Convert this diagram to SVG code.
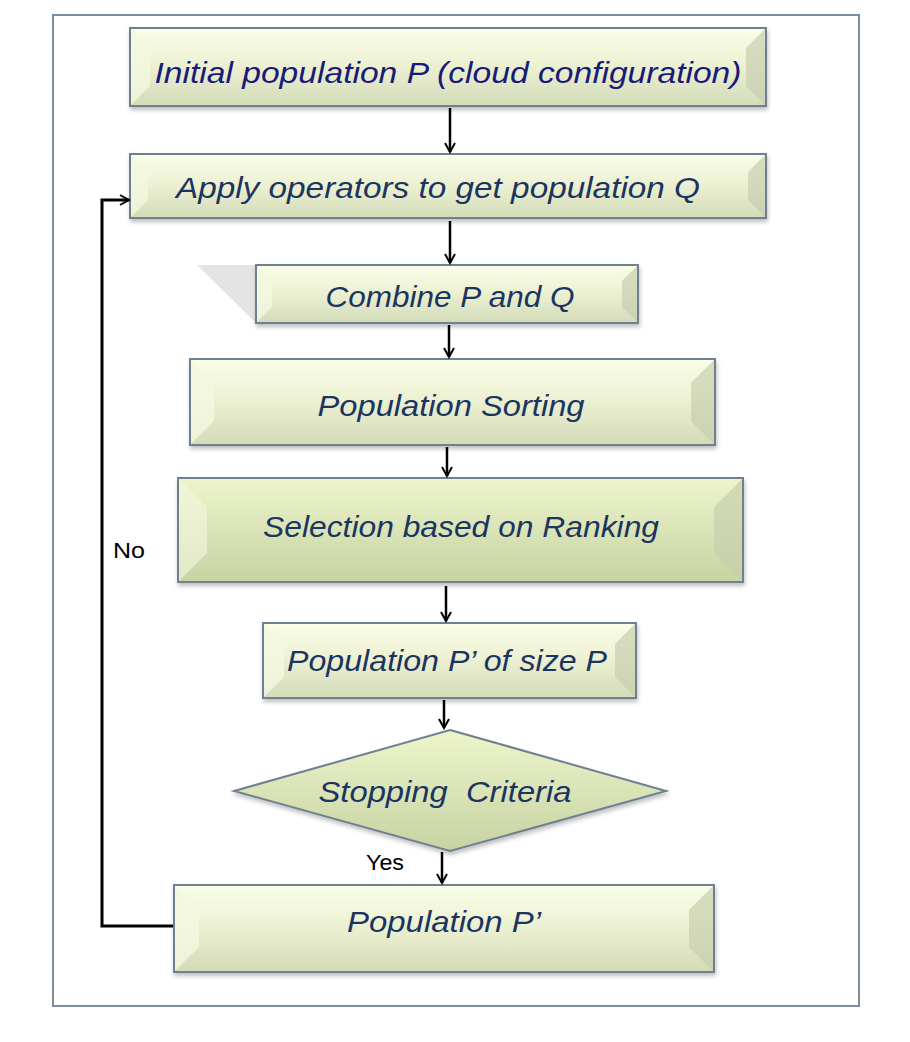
<svg xmlns="http://www.w3.org/2000/svg" width="910" height="1042" viewBox="0 0 910 1042">
<defs>
<linearGradient id="g" x1="0" y1="0" x2="0" y2="1">
<stop offset="0" stop-color="#fafde8"/><stop offset="0.45" stop-color="#eef2d4"/><stop offset="1" stop-color="#d3dbb8"/>
</linearGradient>
<linearGradient id="gd" x1="0" y1="0" x2="0" y2="1">
<stop offset="0" stop-color="#eef5cc"/><stop offset="1" stop-color="#c6d3a2"/>
</linearGradient>
<filter id="sh" x="-5%" y="-10%" width="110%" height="130%">
<feDropShadow dx="1" dy="3" stdDeviation="2" flood-color="#000" flood-opacity="0.25"/>
</filter>
<marker id="ah" viewBox="0 0 12 12" refX="10" refY="6" markerWidth="12" markerHeight="12" markerUnits="userSpaceOnUse" orient="auto">
<path d="M1,1 L10,6 L1,11" fill="none" stroke="#000" stroke-width="2"/>
</marker>
</defs>
<style>
.box{fill:url(#g);stroke:#6f8090;stroke-width:2;filter:url(#sh)}
.bl{fill:#f3f7e0;opacity:0.8}
.br{fill:#c8cfae;opacity:0.7}
.t{font-family:"Liberation Sans",Arial,sans-serif;font-style:italic;font-size:30px;fill:#1c3560;text-anchor:middle;white-space:pre}
.lab{font-family:"Liberation Sans",Arial,sans-serif;font-size:22px;fill:#000}
.c{stroke:#000;stroke-width:2.5;fill:none;marker-end:url(#ah)}
</style>
<rect width="910" height="1042" fill="#fff"/>
<rect x="53" y="15" width="806" height="991" fill="#fff" stroke="#7d8fa3" stroke-width="2"/>

<g id="n1">
<rect class="box" x="130" y="28" width="636" height="78"/>
<polygon class="bl" points="131,29 150,48 150,86 131,105"/>
<polygon class="br" points="765,29 746,48 746,86 765,105"/>
<text class="t" x="448" y="83" textLength="587" lengthAdjust="spacingAndGlyphs" style="fill:#1a1a78">Initial population P (cloud configuration)</text>
</g>
<g id="n2">
<rect class="box" x="130" y="154" width="636" height="64"/>
<polygon class="bl" points="131,155 148,172 148,200 131,217"/>
<polygon class="br" points="765,155 748,172 748,200 765,217"/>
<text class="t" x="438" y="198" textLength="524" lengthAdjust="spacingAndGlyphs">Apply operators to get population Q</text>
</g>
<g id="n3">
<polygon points="197,265 256,265 256,323" fill="#e4e4e4"/>
<rect class="box" x="256" y="265" width="382" height="58"/>
<polygon class="bl" points="257,266 272,281 272,307 257,322"/>
<polygon class="br" points="637,266 622,281 622,307 637,322"/>
<text class="t" x="450" y="307" textLength="249" lengthAdjust="spacingAndGlyphs">Combine P and Q</text>
</g>
<g id="n4">
<rect class="box" x="190" y="359" width="525" height="86"/>
<polygon class="bl" points="191,360 214,383 214,421 191,444"/>
<polygon class="br" points="714,360 691,383 691,421 714,444"/>
<text class="t" x="451" y="416" textLength="267" lengthAdjust="spacingAndGlyphs">Population Sorting</text>
</g>
<g id="n5">
<rect class="box" x="178" y="478" width="565" height="104" style="fill:url(#gd)"/>
<polygon class="bl" points="179,479 207,507 207,553 179,581" style="opacity:0.6"/>
<polygon class="br" points="742,479 714,507 714,553 742,581"/>
<text class="t" x="461" y="537" textLength="396" lengthAdjust="spacingAndGlyphs">Selection based on Ranking</text>
</g>
<g id="n6">
<rect class="box" x="263" y="623" width="373" height="75"/>
<polygon class="bl" points="264,624 284,644 284,677 264,697"/>
<polygon class="br" points="635,624 615,644 615,677 635,697"/>
<text class="t" x="447" y="671" textLength="320" lengthAdjust="spacingAndGlyphs">Population P’ of size P</text>
</g>
<g id="n7">
<polygon points="450,730 666,791 450,851 234,791" fill="url(#gd)" stroke="#6f8090" stroke-width="2" filter="url(#sh)"/>
<text class="t" x="445" y="802" textLength="253" lengthAdjust="spacingAndGlyphs">Stopping  Criteria</text>
</g>
<g id="n8">
<rect class="box" x="174" y="885" width="540" height="87"/>
<polygon class="bl" points="175,886 199,910 199,947 175,971"/>
<polygon class="br" points="713,886 689,910 689,947 713,971"/>
<text class="t" x="444" y="932" textLength="194" lengthAdjust="spacingAndGlyphs">Population P’</text>
</g>

<g id="connectors">
<line class="c" x1="450" y1="108" x2="450" y2="152"/>
<line class="c" x1="450" y1="221" x2="450" y2="263"/>
<line class="c" x1="449" y1="325" x2="449" y2="357"/>
<line class="c" x1="447" y1="447" x2="447" y2="476"/>
<line class="c" x1="446" y1="586" x2="446" y2="621"/>
<line class="c" x1="444" y1="700" x2="444" y2="728"/>
<line class="c" x1="442" y1="852" x2="442" y2="883"/>
<polyline class="c" points="173,926 102,926 102,200 129,200" style="stroke-width:3"/>
<text class="lab" x="113" y="558" textLength="32" lengthAdjust="spacingAndGlyphs">No</text>
<text class="lab" x="366" y="870" textLength="38" lengthAdjust="spacingAndGlyphs">Yes</text>
</g>
</svg>
